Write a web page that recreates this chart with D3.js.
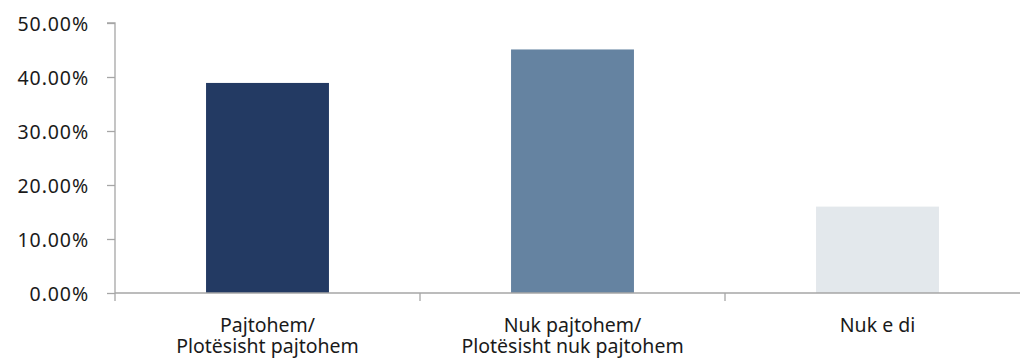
<!DOCTYPE html>
<html>
<head>
<meta charset="utf-8">
<script src="https://cdn.jsdelivr.net/npm/d3@7"></script>
<style>
  html, body { margin: 0; padding: 0; background: #fff; }
  svg { display: block; }
  text { font-family: "Noto Sans", sans-serif; fill: #1a1a1a; }
</style>
</head>
<body>
<svg id="chart" width="1020" height="360"></svg>
<script>
// Survey answers and their shares (percent)
const categories = [
  ["Pajtohem/", "Plotësisht pajtohem"],
  ["Nuk pajtohem/", "Plotësisht nuk pajtohem"],
  ["Nuk e di"]
];
const shares = [38.9, 45.1, 16.0];
const barColors = ["#233a63", "#6583a1", "#e3e8ec"];
const yTicks = [0, 10, 20, 30, 40, 50];

const svg = d3.select("#chart");
const axisColor = "#a6a6a6";

const keys = categories.map((c, i) => i);
const x = d3.scaleBand().domain(keys).range([115, 1030]).paddingInner(0).paddingOuter(0);
const y = d3.scaleLinear().domain([0, 50]).range([293, 23]);
const barW = x.bandwidth() * 0.403;

// Bars
svg.append("g").selectAll("rect")
  .data(shares)
  .join("rect")
  .attr("x", (d, i) => x(i) + x.bandwidth() / 2 - barW / 2)
  .attr("width", barW)
  .attr("y", d => y(d))
  .attr("height", d => y(0) - y(d))
  .attr("fill", (d, i) => barColors[i]);

// Y axis
const yAxis = svg.append("g")
  .attr("transform", "translate(115,0)")
  .call(d3.axisLeft(y).tickValues(yTicks).tickSize(8).tickPadding(18)
    .tickFormat(d => d3.format(".2f")(d) + "%"));
yAxis.select(".domain").attr("stroke", axisColor).attr("stroke-width", 1.3)
  .attr("d", `M-8,${y(50)}H0V${y(0)}`);
yAxis.selectAll(".tick line").attr("stroke", axisColor).attr("stroke-width", 1.3);
yAxis.selectAll(".tick text")
  .style("font-size", "19.5px")
  .style("letter-spacing", "0.9px")
  .attr("fill", "#1a1a1a")
  .attr("dy", "0.36em");

// X axis
const xAxis = svg.append("g")
  .attr("transform", `translate(0,${y(0)})`);
xAxis.append("line")
  .attr("x1", 115).attr("x2", 1030)
  .attr("y1", 0).attr("y2", 0)
  .attr("stroke", axisColor).attr("stroke-width", 1.5);
xAxis.selectAll("line.sep")
  .data(keys.concat([keys.length]))
  .join("line")
  .attr("class", "sep")
  .attr("x1", d => d < keys.length ? x(d) : x(keys.length - 1) + x.bandwidth())
  .attr("x2", d => d < keys.length ? x(d) : x(keys.length - 1) + x.bandwidth())
  .attr("y1", 0).attr("y2", 8)
  .attr("stroke", axisColor).attr("stroke-width", 1.3);

// Category labels
const labels = xAxis.selectAll("text.cat")
  .data(categories)
  .join("text")
  .attr("class", "cat")
  .attr("text-anchor", "middle")
  .style("font-size", "19.5px")
  .attr("transform", (d, i) => `translate(${x(i) + x.bandwidth() / 2},0)`);
labels.selectAll("tspan")
  .data(d => d)
  .join("tspan")
  .attr("x", 0)
  .attr("y", (d, j) => 39 + j * 21)
  .text(d => d);
</script>
</body>
</html>
